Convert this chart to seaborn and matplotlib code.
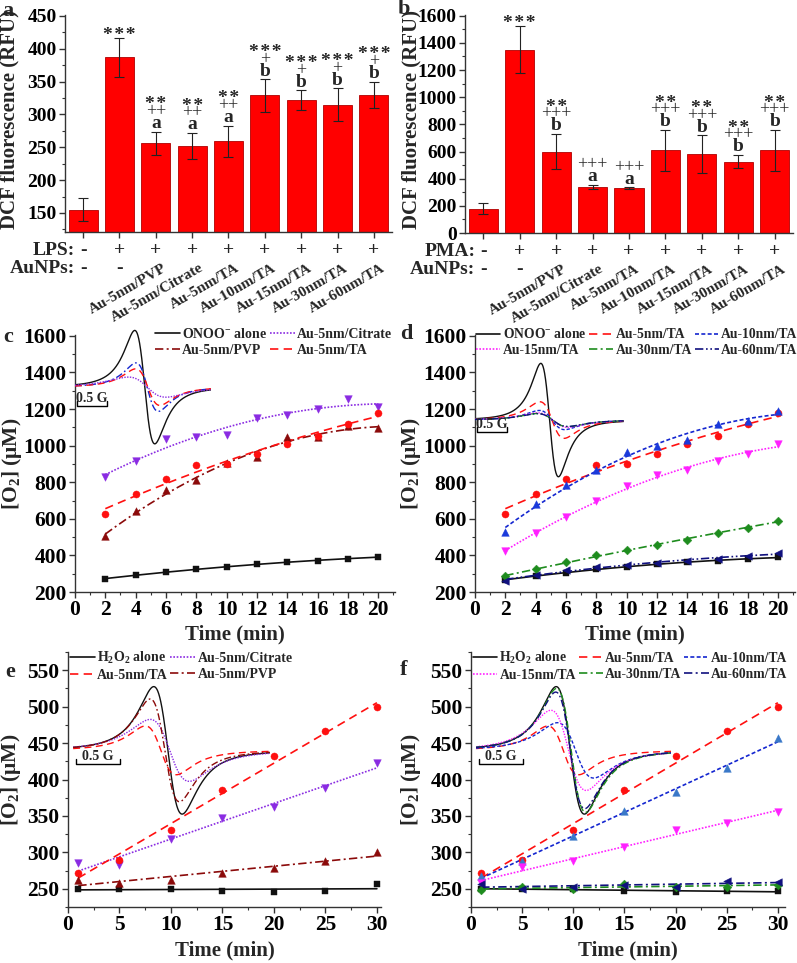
import numpy as np
import pandas as pd
import matplotlib
matplotlib.use("Agg")
import matplotlib.pyplot as plt
from matplotlib.transforms import blended_transform_factory
from matplotlib.ticker import MultipleLocator
import seaborn as sns

# ---------------- data ----------------
bar_groups = list(range(9))
lps_row = ['-', '+', '+', '+', '+', '+', '+', '+', '+']
aunp_row = ['-', '-', 'Au-5nm/PVP', 'Au-5nm/Citrate', 'Au-5nm/TA', 'Au-10nm/TA',
            'Au-15nm/TA', 'Au-30nm/TA', 'Au-60nm/TA']

a_values = [155, 387, 256, 252, 259, 329, 322, 315, 330]
a_errors = [18, 30, 18, 20, 24, 25, 15, 25, 20]
a_stars = ['', '***', '**', '**', '**', '***', '***', '***', '***']
a_plus = ['', '', '++', '++', '++', '+', '+', '+', '+']
a_letters = ['', '', 'a', 'a', 'a', 'b', 'b', 'b', 'b']

b_values = [180, 1350, 600, 340, 330, 610, 580, 525, 610]
b_errors = [40, 175, 130, 15, 5, 150, 140, 50, 150]
b_stars = ['', '***', '**', '', '', '**', '**', '**', '**']
b_plus = ['', '', '+++', '+++', '+++', '+++', '+++', '+++', '+++']
b_letters = ['', '', 'b', 'a', 'a', 'b', 'b', 'b', 'b']

t_cd = [2, 4, 6, 8, 10, 12, 14, 16, 18, 20]
c_onoo = [270, 295, 310, 325, 335, 352, 362, 372, 382, 392]
c_citrate = [830, 915, 1035, 1045, 1060, 1150, 1170, 1200, 1255, 1210]
c_pvp = [505, 645, 755, 810, 905, 940, 1050, 1050, 1105, 1095]
c_ta5 = [625, 735, 820, 895, 900, 955, 1010, 1055, 1120, 1180]

d_onoo = [265, 290, 305, 325, 335, 355, 362, 372, 380, 390]
d_ta5 = [625, 735, 820, 895, 900, 955, 1010, 1055, 1120, 1180]
d_ta10 = [530, 680, 785, 865, 965, 1000, 1030, 1120, 1135, 1190]
d_ta15 = [425, 520, 610, 695, 780, 840, 865, 915, 955, 1010]
d_ta30 = [285, 325, 365, 400, 430, 455, 485, 525, 550, 590]
d_ta60 = [260, 295, 320, 335, 350, 360, 372, 378, 398, 415]

t_ef = [1, 5, 10, 15, 20, 25, 30]
e_h2o2 = [250, 250, 250, 247, 245, 247, 256]
e_citrate = [285, 282, 318, 347, 362, 388, 422]
e_ta5 = [272, 290, 330, 386, 432, 466, 499]
e_pvp = [262, 258, 262, 271, 278, 288, 300]

f_h2o2 = [250, 250, 250, 247, 245, 247, 247]
f_ta5 = [272, 290, 330, 386, 432, 466, 499]
f_ta10 = [268, 288, 322, 357, 383, 416, 457]
f_ta15 = [258, 280, 288, 307, 330, 340, 356]
f_ta30 = [248, 252, 250, 257, 253, 253, 255]
f_ta60 = [257, 250, 252, 255, 253, 261, 259]

# EPR inset spectra: peak-to-peak amplitude, peak-to-peak width (G), field shift (G)
c_esr_pp = [620, 265, 200, 110]
c_esr_width = [0.33, 0.37, 0.40, 0.62]
c_esr_shift = [0.0, 0.04, 0.05, 0.04]
d_esr_pp = [620, 200, 105, 80, 72, 70]
d_esr_width = [0.29, 0.40, 0.42, 0.50, 0.50, 0.50]
d_esr_shift = [0.0, 0.04, 0.04, 0.05, 0.05, 0.05]
e_esr_pp = [175, 85, 67, 141]
e_esr_width = [0.32, 0.44, 0.35, 0.33]
e_esr_shift = [0.0, 0.02, -0.08, -0.035]
f_esr_pp = [175, 67, 76, 110, 170, 160]
f_esr_width = [0.32, 0.35, 0.41, 0.40, 0.33, 0.33]
f_esr_shift = [0.0, -0.08, 0.06, -0.02, 0.01, 0.0]

# ---------------- style ----------------
sns.set_style("ticks")
plt.rcParams["font.family"] = ["Liberation Serif", "DejaVu Serif"]
plt.rcParams["font.weight"] = "bold"
plt.rcParams["axes.labelweight"] = "bold"
plt.rcParams["mathtext.fontset"] = "custom"
plt.rcParams["mathtext.rm"] = "Liberation Serif:bold"
plt.rcParams["mathtext.bf"] = "Liberation Serif:bold"
plt.rcParams["mathtext.it"] = "Liberation Serif:italic:bold"

W, H = 797, 963
fig = plt.figure(figsize=(W / 100, H / 100), dpi=100)


def px_box(l, t, r, b):
    return [l / W, 1 - b / H, (r - l) / W, (b - t) / H]


SOLID = '-'
DASH = (0, (5, 3.2))
SDASH = (0, (2.4, 1.4))
DOT = (0, (1, 1))
DASHDOT = (0, (5, 2, 1.2, 2))
DASHDOTDOT = (0, (5, 1.6, 1, 1.6, 1, 1.6))

BLACK = '#111111'
RED = '#ff1010'
DRED = '#8b0a0a'
PURPLE = '#8a2be2'
BLUE = '#1426d0'
MAGENTA = '#ff20ff'
GREEN = '#1e8c1e'
NAVY = '#10107e'

HAIR = '\u200a'


def style_axes(ax, labelsize):
    sns.despine(ax=ax)
    for sp in ('left', 'bottom'):
        ax.spines[sp].set_linewidth(1.0)
        ax.spines[sp].set_color('#333333')
    ax.tick_params(which='major', direction='out', length=4, width=1,
                   labelsize=labelsize, colors='#333333', labelcolor='black', pad=2)
    ax.tick_params(which='minor', direction='out', length=2.5, width=0.8, colors='#333333')


def bar_panel(ax, values, errors, stars, plus, letters, treat, ylim, major, minor,
              ylabel_x):
    df = pd.DataFrame({"group": [str(i) for i in bar_groups], "value": values})
    sns.barplot(data=df, x="group", y="value", color="#ff0000", saturation=1,
                width=0.8, edgecolor="#b00000", linewidth=0.6, errorbar=None, ax=ax)
    ax.errorbar(bar_groups, values, yerr=errors, fmt="none", ecolor="#222222",
                elinewidth=0.8, capsize=3.5, capthick=0.8, zorder=3)
    for i, (v, e) in enumerate(zip(values, errors)):
        top = v + e
        if letters[i]:
            ax.annotate(letters[i], (i, top), xytext=(0, 2.5), textcoords="offset points",
                        ha="center", va="baseline", fontsize=14, fontweight="bold")
        if plus[i]:
            off = 11.0 if letters[i] else 2.5
            ax.annotate(plus[i], (i, top), xytext=(0, off), textcoords="offset points",
                        ha="center", va="baseline", fontsize=13, fontweight="normal")
        if stars[i]:
            off = 16.0 if plus[i] else -1.5
            ax.annotate(HAIR.join(stars[i]), (i, top), xytext=(0, off),
                        textcoords="offset points", ha="center", va="baseline",
                        fontsize=14, fontweight="bold")
    ax.set_xlim(-0.5, 8.5)
    ax.set_ylim(*ylim)
    ax.yaxis.set_major_locator(MultipleLocator(major))
    ax.yaxis.set_minor_locator(MultipleLocator(minor))
    ax.set_xticks(bar_groups)
    ax.set_xticklabels([])
    ax.set_xlabel('')
    ax.set_ylabel('DCF fluorescence (RFU)', fontsize=15, fontweight='bold')
    ax.yaxis.set_label_coords(ylabel_x, 0.52)
    style_axes(ax, 14)
    tr = blended_transform_factory(ax.transData, ax.transAxes)
    y_row1, y_row2, y_rot = -0.083, -0.168, -0.135
    ax.text(-0.22, y_row1, treat + ':', transform=tr, ha='right', va='center',
            fontsize=14, fontweight='bold')
    ax.text(-0.22, y_row2, 'AuNPs:', transform=tr, ha='right', va='center',
            fontsize=14, fontweight='bold')
    for i in bar_groups:
        ax.text(i, y_row1, lps_row[i], transform=tr, ha='center', va='center',
                fontsize=14, fontweight='bold')
        if aunp_row[i] == '-':
            ax.text(i, y_row2, '-', transform=tr, ha='center', va='center',
                    fontsize=14, fontweight='bold')
        else:
            ax.text(i + 0.18, y_rot, aunp_row[i], transform=tr, ha='right', va='top',
                    rotation=30, rotation_mode='anchor', fontsize=11, fontweight='bold')


def line_panel(ax, t, series, styles, labels, deg, order, ncol, leg_anchor, leg_size,
               xlim, ylim, xmajor, xminor, ymajor, yminor, ylabel_x, xlabel_y):
    handles = []
    tt = np.linspace(min(t), max(t), 200)
    for y, st, lab in zip(series, styles, labels):
        coef = np.polyfit(t, y, deg)
        h, = ax.plot(tt, np.polyval(coef, tt), color=st['line'], lw=1.2, ls=st['ls'],
                     label=lab, zorder=2)
        handles.append(h)
        sns.scatterplot(x=t, y=y, marker=st['marker'], color=st['mc'], s=st['s'],
                        edgecolor=st['mc'], linewidth=0.3, ax=ax, zorder=3, legend=False)
    ax.set_xlim(*xlim)
    ax.set_ylim(*ylim)
    ax.xaxis.set_major_locator(MultipleLocator(xmajor))
    ax.xaxis.set_minor_locator(MultipleLocator(xminor))
    ax.yaxis.set_major_locator(MultipleLocator(ymajor))
    ax.yaxis.set_minor_locator(MultipleLocator(yminor))
    ax.set_xlabel('Time (min)', fontsize=15, fontweight='bold')
    ax.set_ylabel(r'[O$\mathregular{_2}$] ($\mathregular{\mu}$M)', fontsize=15.5,
                  fontweight='bold')
    ax.yaxis.set_label_coords(ylabel_x, 0.5)
    ax.xaxis.set_label_coords(0.5, xlabel_y)
    style_axes(ax, 15.5)
    leg = ax.legend([handles[k] for k in order], [labels[k] for k in order],
                    loc='upper left', bbox_to_anchor=leg_anchor, ncol=ncol,
                    frameon=False, handlelength=1.8, handletextpad=0.15,
                    columnspacing=0.2, labelspacing=0.2, borderpad=0,
                    borderaxespad=0, prop={'family': 'Liberation Serif',
                                           'weight': 'bold', 'size': leg_size})
    return leg


def esr_inset(ax, bounds, brange, sig_lim, pp, width, shift, styles, bar_x, bar_y, tick):
    ins = ax.inset_axes(bounds, transform=ax.transData)
    ins.set_xlim(*brange)
    ins.set_ylim(*sig_lim)
    ins.axis('off')
    ins.patch.set_alpha(0)
    B = np.linspace(brange[0], brange[1], 800)
    for p, w, s, st in zip(pp, width, shift, styles):
        hw = w * np.sqrt(3) / 2
        u = (B - s) / hw
        sig = -(p / 2) * (2 * u / (1 + u ** 2) ** 2) / 0.6495
        ins.plot(B, sig, color=st[0], ls=st[1], lw=1.0)
    ins.plot([bar_x, bar_x, bar_x + 0.5, bar_x + 0.5],
             [bar_y + tick, bar_y, bar_y, bar_y + tick], color='black', lw=1.0)
    ins.text(bar_x + 0.25, bar_y + tick * 0.15, '0.5 G', ha='center', va='bottom',
             fontsize=10, fontweight='bold')


# ---------------- panel a ----------------
ax_a = fig.add_axes(px_box(65, 15, 392, 232))
bar_panel(ax_a, a_values, a_errors, a_stars, a_plus, a_letters, 'LPS', (121, 451.5),
          50, 25, -0.138)

# ---------------- panel b ----------------
ax_b = fig.add_axes(px_box(465, 15, 793, 233))
bar_panel(ax_b, b_values, b_errors, b_stars, b_plus, b_letters, 'PMA', (0, 1605),
          200, 100, -0.134)

# ---------------- panel c ----------------
ax_c = fig.add_axes(px_box(75, 335, 395, 592))
c_labels = [r'ONOO$\mathregular{^{-}}$ alone', 'Au-5nm/Citrate', 'Au-5nm/PVP', 'Au-5nm/TA']
c_styles = [dict(line=BLACK, ls=SOLID, marker='s', mc=BLACK, s=22),
            dict(line=PURPLE, ls=DOT, marker='v', mc=PURPLE, s=30),
            dict(line=DRED, ls=DASHDOT, marker='^', mc=DRED, s=30),
            dict(line=RED, ls=DASH, marker='o', mc=RED, s=26)]
line_panel(ax_c, t_cd, [c_onoo, c_citrate, c_pvp, c_ta5], c_styles, c_labels, 2,
           [0, 2, 1, 3], 2, (0.25, 1.03), 10, (0, 21.1), (200, 1605), 2, 1, 200, 100,
           -0.158, -0.125)
esr_inset(ax_c, [0, 920, 9, 800], (-1.15, 1.1), (-400, 400), c_esr_pp, c_esr_width,
          c_esr_shift, [(BLACK, SOLID), (BLUE, DASHDOT), (RED, DASH), (PURPLE, DOT)],
          -1.12, -103, 28)

# ---------------- panel d ----------------
ax_d = fig.add_axes(px_box(475, 335, 795, 592))
d_labels = [r'ONOO$\mathregular{^{-}}$ alone', 'Au-5nm/TA', 'Au-10nm/TA', 'Au-15nm/TA',
            'Au-30nm/TA', 'Au-60nm/TA']
d_styles = [dict(line=BLACK, ls=SOLID, marker='s', mc=BLACK, s=22),
            dict(line=RED, ls=DASH, marker='o', mc=RED, s=26),
            dict(line=BLUE, ls=SDASH, marker='^', mc='#1a3adb', s=30),
            dict(line=MAGENTA, ls=DOT, marker='v', mc=MAGENTA, s=30),
            dict(line=GREEN, ls=DASHDOT, marker='D', mc=GREEN, s=20),
            dict(line=NAVY, ls=DASHDOTDOT, marker='<', mc=NAVY, s=30)]
line_panel(ax_d, t_cd, [d_onoo, d_ta5, d_ta10, d_ta15, d_ta30, d_ta60], d_styles,
           d_labels, 2, [0, 3, 1, 4, 2, 5], 3, (0.003, 1.03), 9.8, (0, 21.1),
           (200, 1605), 2, 1, 200, 100, -0.162, -0.125)
esr_inset(ax_d, [0, 740, 9.8, 800], (-1.23, 1.22), (-400, 400), d_esr_pp, d_esr_width,
          d_esr_shift, [(BLACK, SOLID), (RED, DASH), (BLUE, SDASH), (MAGENTA, DOT),
                        (GREEN, DASHDOT), (NAVY, DASHDOTDOT)],
          -1.2, -65, 28)

# ---------------- panel e ----------------
ax_e = fig.add_axes(px_box(68, 652, 381, 907))
e_labels = [r'H$\mathregular{_2}$O$\mathregular{_2}$ alone', 'Au-5nm/Citrate', 'Au-5nm/TA',
            'Au-5nm/PVP']
e_styles = [dict(line=BLACK, ls=SOLID, marker='s', mc=BLACK, s=22),
            dict(line=PURPLE, ls=DOT, marker='v', mc=PURPLE, s=30),
            dict(line=RED, ls=DASH, marker='o', mc=RED, s=26),
            dict(line=DRED, ls=DASHDOT, marker='^', mc=DRED, s=30)]
line_panel(ax_e, t_ef, [e_h2o2, e_citrate, e_ta5, e_pvp], e_styles, e_labels, 1,
           [0, 2, 1, 3], 2, (0.006, 1.008), 10, (0, 30.4), (225, 575), 5, 2.5, 50, 25,
           -0.145, -0.133)
esr_inset(ax_e, [0.5, 340, 19.1, 200], (-1.07, 1.15), (-100, 100), e_esr_pp, e_esr_width,
          e_esr_shift, [(BLACK, SOLID), (PURPLE, DOT), (RED, DASH), (DRED, DASHDOT)],
          -1.04, -19, 7)

# ---------------- panel f ----------------
ax_f = fig.add_axes(px_box(471, 652, 785, 907))
f_labels = [r'H$\mathregular{_2}$O$\mathregular{_2}$ alone', 'Au-5nm/TA', 'Au-10nm/TA',
            'Au-15nm/TA', 'Au-30nm/TA', 'Au-60nm/TA']
f_styles = [dict(line=BLACK, ls=SOLID, marker='s', mc=BLACK, s=22),
            dict(line=RED, ls=DASH, marker='o', mc=RED, s=26),
            dict(line=BLUE, ls=SDASH, marker='^', mc='#3a78c8', s=30),
            dict(line=MAGENTA, ls=DOT, marker='v', mc=MAGENTA, s=30),
            dict(line=GREEN, ls=DASHDOT, marker='D', mc=GREEN, s=20),
            dict(line=NAVY, ls=DASHDOT, marker='<', mc=NAVY, s=30)]
line_panel(ax_f, t_ef, [f_h2o2, f_ta5, f_ta10, f_ta15, f_ta30, f_ta60], f_styles,
           f_labels, 1, [0, 3, 1, 4, 2, 5], 3, (0.006, 1.008), 9.8, (0, 30.7),
           (225, 575), 5, 2.5, 50, 25, -0.153, -0.133)
esr_inset(ax_f, [0.5, 340, 19.1, 200], (-1.07, 1.15), (-100, 100), f_esr_pp, f_esr_width,
          f_esr_shift, [(BLACK, SOLID), (RED, DASH), (BLUE, SDASH), (MAGENTA, DOT),
                        (GREEN, DASHDOT), (NAVY, DASHDOT)],
          -1.04, -19, 7)

# ---------------- panel letters ----------------
for lab, x, y in [('a', 8, 11), ('b', 404, 9), ('c', 8, 337), ('d', 406, 334),
                  ('e', 10, 672), ('f', 404, 670)]:
    fig.text(x / W, 1 - y / H, lab, ha='center', va='center', fontsize=16,
             fontweight='bold')

fig.savefig('out.png', dpi=100)
